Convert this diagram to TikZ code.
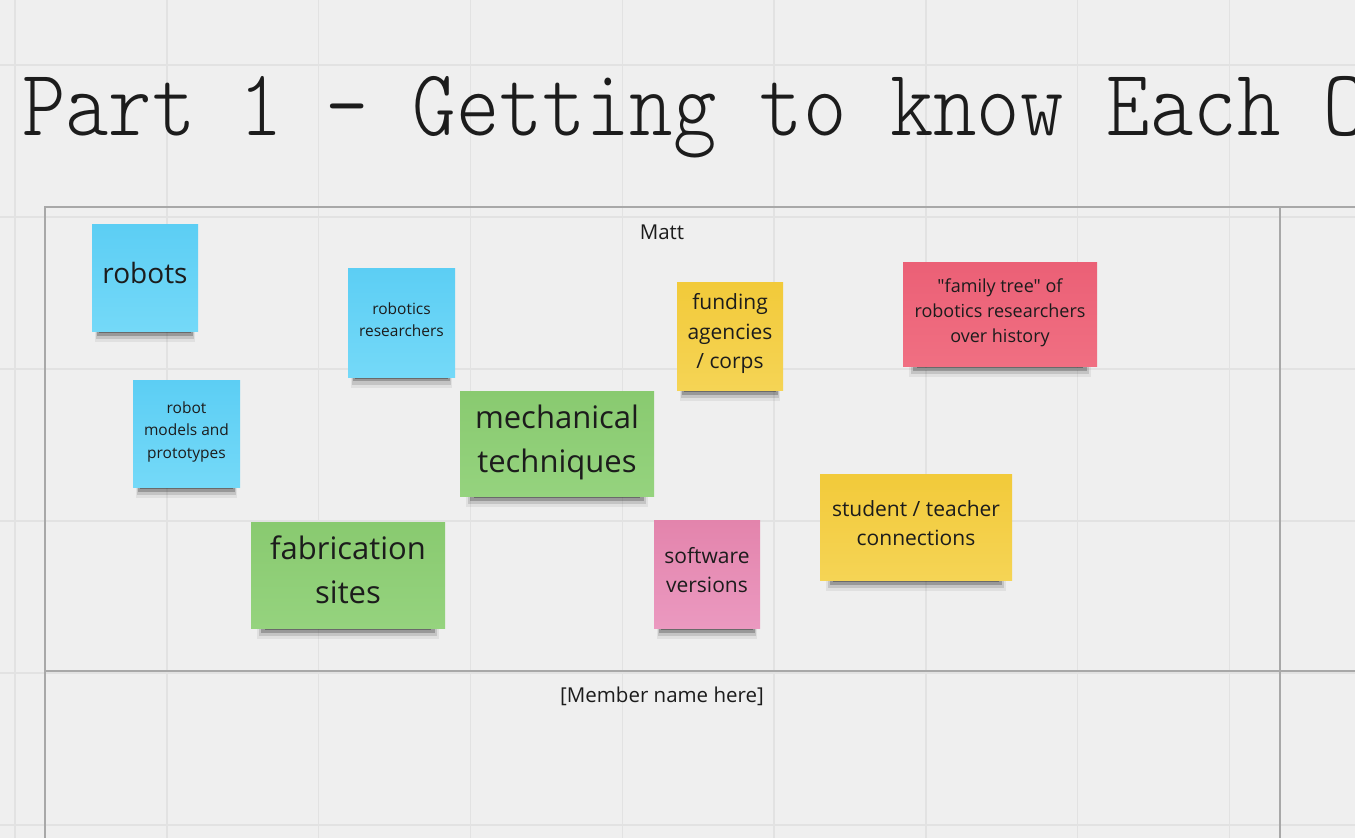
\documentclass[tikz,border=0pt]{standalone}
\usepackage{fontspec}
\usepackage{graphicx}
\newfontfamily\notefont{Open Sans}
\newfontfamily\titlefont{lmmonolt10-regular.otf}
\usepackage{tikz}
\usetikzlibrary{shadows}
\definecolor{board}{HTML}{EFEFEF}
\definecolor{gridgray}{HTML}{E2E2E2}
\definecolor{framegray}{HTML}{A8A8A8}
\definecolor{ink}{HTML}{1C1C1C}
\definecolor{blueA}{HTML}{5CCEF4}
\definecolor{blueB}{HTML}{74D9F8}
\definecolor{yellowA}{HTML}{F2CA3A}
\definecolor{yellowB}{HTML}{F5D455}
\definecolor{greenA}{HTML}{89CA70}
\definecolor{greenB}{HTML}{95D37E}
\definecolor{redA}{HTML}{EB6076}
\definecolor{redB}{HTML}{F06F82}
\definecolor{pinkA}{HTML}{E384AC}
\definecolor{pinkB}{HTML}{EB99C0}

\begin{document}
\begin{tikzpicture}[x=1pt, y=-1pt,
  gridline/.style={gridgray, line width=1.4pt},
  frameline/.style={framegray, line width=1.2pt},
  note/.style={inner sep=0pt, align=center, text=ink,
    general shadow={fill=black, opacity=.06, shadow scale=.94, shadow yshift=-15pt},
    general shadow={fill=black, opacity=.12, shadow scale=.92, shadow yshift=-13pt},
    general shadow={fill=black, opacity=.22, shadow scale=.90, shadow yshift=-11pt},
    general shadow={fill=black, opacity=.30, shadow scale=.86, shadow yshift=-11pt}},
  bluenote/.style={note, top color=blueA, bottom color=blueB},
  yellownote/.style={note, top color=yellowA, bottom color=yellowB},
  greennote/.style={note, top color=greenA, bottom color=greenB},
  rednote/.style={note, top color=redA, bottom color=redB},
  pinknote/.style={note, top color=pinkA, bottom color=pinkB},
  lbl/.style={text=ink, inner sep=0pt, font=\notefont\fontsize{20.5}{24}\selectfont}]
\useasboundingbox (0,0) rectangle (1355,838);
\fill[board] (0,0) rectangle (1355,838);
\begin{scope}
\clip (0,0) rectangle (1355,838);
\foreach \gx in {0,...,8}
  \draw[gridline] ({15+151.8*\gx},0) -- ({15+151.8*\gx},838);
\foreach \gy in {0,...,5}
  \draw[gridline] (0,{65+152*\gy}) -- (1355,{65+152*\gy});
\draw[frameline] (1360,207) -- (45,207) -- (45,845);
\draw[frameline] (45,671) -- (1360,671);
\draw[frameline] (1280,207) -- (1280,845);
\node[anchor=base west, inner sep=0pt, text=ink,
  font=\titlefont\fontsize{95}{95}\selectfont] (title) at (22,135)
  {\scalebox{0.87}[1]{Part 1 – Getting to know Each Other}};
\end{scope}

\node[lbl] (matt) at (662,232) {Matt};
\node[lbl] (member) at (662,696) {[Member name here]};

\node[bluenote, minimum width=106pt, minimum height=107pt, text depth=10pt,
  font=\notefont\fontsize{28}{34}\selectfont] (robots) at (145,277.5) {robots};
\node[bluenote, minimum width=107pt, minimum height=109pt, text depth=6pt,
  font=\notefont\fontsize{15.5}{22}\selectfont] (researchers) at (401.5,322.5) {robotics\\researchers};
\node[bluenote, minimum width=107pt, minimum height=107pt, text depth=7.7pt,
  font=\notefont\fontsize{15.5}{22.5}\selectfont] (models) at (186.5,433.5) {robot\\models and\\prototypes};
\node[greennote, minimum width=194pt, minimum height=105pt, text depth=9.4pt,
  font=\notefont\fontsize{31}{44}\selectfont] (mechanical) at (557,443.5) {mechanical\\techniques};
\node[yellownote, minimum width=106pt, minimum height=108pt, text depth=10pt,
  font=\notefont\fontsize{21}{29.5}\selectfont] (funding) at (730,336) {funding\\agencies\\/ corps};
\node[rednote, minimum width=194pt, minimum height=104pt, text depth=6.3pt,
  font=\notefont\fontsize{18}{25}\selectfont] (familytree) at (1000,314) {"family tree" of\\robotics researchers\\over history};
\node[greennote, minimum width=194pt, minimum height=106pt, text depth=10pt,
  font=\notefont\fontsize{31}{44}\selectfont] (fabrication) at (348,575) {fabrication\\sites};
\node[pinknote, minimum width=106pt, minimum height=108pt, text depth=8pt,
  font=\notefont\fontsize{21}{29}\selectfont] (software) at (707,574) {software\\versions};
\node[yellownote, minimum width=192pt, minimum height=106pt, text depth=8pt,
  font=\notefont\fontsize{21}{29}\selectfont] (student) at (916,527) {student / teacher\\connections};
\end{tikzpicture}
\end{document}
